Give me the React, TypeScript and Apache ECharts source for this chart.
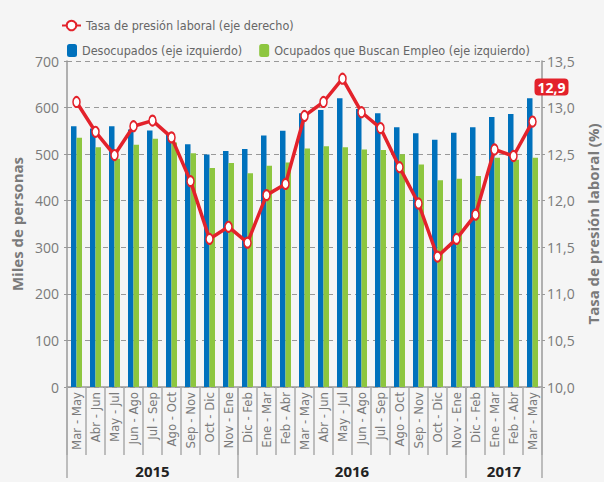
import React, { useEffect, useRef } from "react";
import * as echarts from "echarts";

const categories = [
  "Mar - May", "Abr - Jun", "May - Jul", "Jun - Ago", "Jul - Sep", "Ago - Oct", "Sep - Nov", "Oct - Dic", "Nov - Ene",
  "Dic - Feb", "Ene - Mar", "Feb - Abr", "Mar - May", "Abr - Jun", "May - Jul", "Jun - Ago", "Jul - Sep", "Ago - Oct", "Sep - Nov", "Oct - Dic", "Nov - Ene",
  "Dic - Feb", "Ene - Mar", "Feb - Abr", "Mar - May",
];
const years = ["2015", "2016", "2017"];
const yearStart = [0, 9, 21];
const desocupados = [560, 555, 560, 553, 551, 543, 521, 499, 507, 511, 540, 550, 588, 595, 620, 597, 588, 558, 545, 531, 546, 558, 580, 586, 620];
const ocupadosBuscan = [535, 515, 490, 520, 533, 525, 502, 470, 481, 459, 475, 482, 512, 517, 515, 510, 509, 500, 478, 444, 447, 453, 492, 488, 492];
const tasaPresion = [13.06, 12.74, 12.49, 12.8, 12.86, 12.68, 12.21, 11.59, 11.72, 11.55, 12.06, 12.18, 12.91, 13.06, 13.31, 12.95, 12.78, 12.36, 11.97, 11.4, 11.59, 11.85, 12.55, 12.48, 12.85];
const lastLabel = "12,9";

const NARROW = "'Liberation Sans Narrow', 'DejaVu Sans Condensed', sans-serif";
const SANS = "'Open Sans', sans-serif";
const GRAY = "#7a7a7a";

export default function App() {
  const ref = useRef<HTMLDivElement>(null);
  useEffect(() => {
    if (!ref.current) return;
    const chart = echarts.init(ref.current, undefined, { renderer: "svg" });
    const yearCats = categories.map((_, i) => String(i));
    const yearLabelAt: Record<number, number> = {};
    years.forEach((y, k) => {
      const s = yearStart[k];
      const e = k + 1 < yearStart.length ? yearStart[k + 1] : categories.length;
      yearLabelAt[Math.floor((s + e - 1) / 2)] = k;
    });
    const lineData = tasaPresion.map((v, i) =>
      i === tasaPresion.length - 1
        ? {
            value: v,
            label: {
              show: true,
              position: "top",
              offset: [19, -15],
              formatter: lastLabel,
              color: "#fff",
              fontWeight: "bold",
              fontSize: 14,
              fontFamily: SANS,
              backgroundColor: "#e3222b",
              borderRadius: 4,
              padding: [2, 3, 1, 3],
            },
          }
        : v
    );
    chart.setOption({
      animation: false,
      backgroundColor: "#f5f5f5",
      legend: [
        {
          data: ["Tasa de presión laboral (eje derecho)"],
          left: 56,
          top: 14,
          itemWidth: 19,
          itemHeight: 12,
          itemGap: 17,
          textStyle: { color: "#666", fontFamily: NARROW, fontSize: 12.5 },
        },
        {
          data: ["Desocupados (eje izquierdo)", "Ocupados que Buscan Empleo (eje izquierdo)"],
          left: 62,
          top: 39,
          itemWidth: 10,
          itemHeight: 13,
          itemGap: 17,
          textStyle: { color: "#666", fontFamily: NARROW, fontSize: 12.5 },
        },
      ],
      grid: { left: 67, right: 62, top: 61, bottom: 95, containLabel: false, outerBoundsMode: "none" },
      xAxis: [
        {
          type: "category",
          data: categories,
          axisLine: { lineStyle: { color: "#999", width: 1.5 } },
          axisTick: { show: true, length: 68, lineStyle: { color: "#aaa", width: 1.5 } },
          axisLabel: {
            rotate: 90,
            interval: 0,
            margin: 5,
            color: GRAY,
            fontFamily: NARROW,
            fontSize: 13,
          },
        },
        {
          type: "category",
          data: yearCats,
          position: "bottom",
          axisLine: { show: false },
          axisTick: {
            show: true,
            length: 91,
            interval: (i: number) => yearStart.indexOf(i) >= 0,
            lineStyle: { color: "#aaa", width: 1.5 },
          },
          axisLabel: {
            interval: (i: number) => yearLabelAt[i] !== undefined,
            margin: 76,
            formatter: (_v: string, i: number) => {
              const k = yearLabelAt[i];
              if (k === undefined) return "";
              const s = yearStart[k];
              const e = k + 1 < yearStart.length ? yearStart[k + 1] : categories.length;
              return (e - s) % 2 === 0 ? "{s|" + years[k] + "}" : "{n|" + years[k] + "}";
            },
            rich: {
              n: { fontWeight: "bold", fontSize: 15, color: "#222", fontFamily: SANS },
              s: { fontWeight: "bold", fontSize: 15, color: "#222", fontFamily: SANS, padding: [0, 0, 0, 19] },
            },
          },
        },
      ],
      yAxis: [
        {
          type: "value",
          min: 0,
          max: 700,
          interval: 100,
          name: "Miles de personas",
          nameLocation: "middle",
          nameRotate: 90,
          nameGap: 38,
          nameTextStyle: { color: GRAY, fontWeight: "bold", fontSize: 15, fontFamily: SANS },
          axisLine: { show: true, lineStyle: { color: "#999", width: 1.5 } },
          axisTick: { show: true, length: 3, lineStyle: { color: "#999" } },
          axisLabel: { color: GRAY, fontSize: 14, fontFamily: SANS, margin: 8 },
          splitLine: { lineStyle: { color: "#999", type: [5, 4], width: 1 } },
        },
        {
          type: "value",
          min: 10,
          max: 13.5,
          interval: 0.5,
          position: "right",
          name: "Tasa de presión laboral (%)",
          nameLocation: "middle",
          nameRotate: 90,
          nameGap: 40,
          nameTextStyle: { color: GRAY, fontWeight: "bold", fontSize: 15, fontFamily: SANS },
          axisLine: { show: true, lineStyle: { color: "#999", width: 1.5 } },
          axisTick: { show: true, length: 3, lineStyle: { color: "#999" } },
          axisLabel: {
            color: GRAY,
            fontSize: 14,
            fontFamily: SANS,
            margin: 5,
            formatter: (v: number) => v.toFixed(1).replace(".", ","),
          },
          splitLine: { show: false },
        },
      ],
      series: [
        {
          name: "Desocupados (eje izquierdo)",
          type: "bar",
          data: desocupados,
          barWidth: 5.5,
          barGap: "0%",
          itemStyle: { color: "#0071bc" },
        },
        {
          name: "Ocupados que Buscan Empleo (eje izquierdo)",
          type: "bar",
          data: ocupadosBuscan,
          barWidth: 5.5,
          itemStyle: { color: "#8dc63f" },
        },
        {
          name: "Tasa de presión laboral (eje derecho)",
          type: "line",
          yAxisIndex: 1,
          data: lineData,
          symbol: "circle",
          symbolSize: [7, 10],
          itemStyle: { color: "#fff", borderColor: "#e3222b", borderWidth: 1.8 },
          lineStyle: { color: "#e3222b", width: 3.5 },
          z: 5,
        },
      ],
    });
    return () => chart.dispose();
  }, []);
  return (
    <div
      ref={ref}
      style={{ position: "fixed", left: 0, top: 0, width: 604, height: 482, background: "#f5f5f5" }}
    />
  );
}
